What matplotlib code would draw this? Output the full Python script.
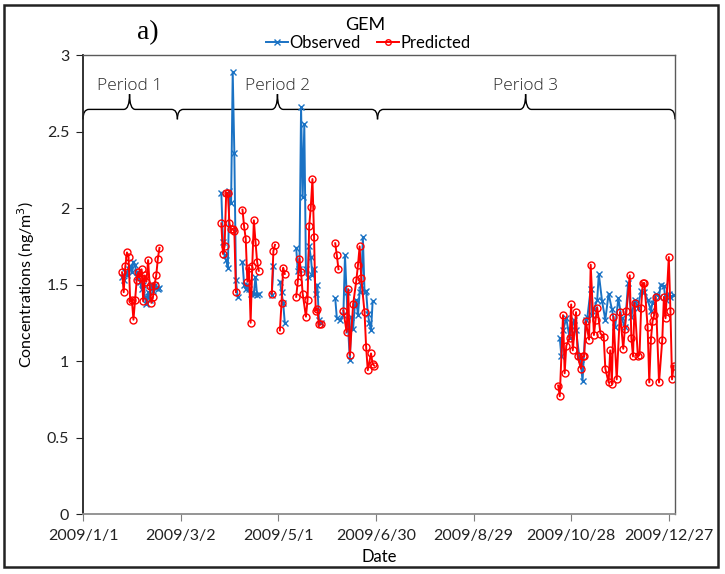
import numpy as np
import matplotlib.pyplot as plt
from matplotlib.path import Path
from matplotlib.patches import PathPatch, Rectangle
from matplotlib.lines import Line2D

# day of year (0 = 2009/1/1) and GEM concentrations (ng/m3)
obs_day = [24, 25, 26, 27, 28, 29, 30, 31, 32, 33, 34, 35, 36, 37, 38, 39, 40, 41, 42, 43, 44, 45, 46, 47,
           85, 86, 87, 88, 89, 90, 91, 92, 93, 94, 95,
           98, 99, 100, 101, 102, 103, 104, 105, 106, 107, 108,
           116, 117,
           121, 122, 123, 124,
           131, 132, 133, 134, 135, 136, 137, 138, 139, 140, 141, 142, 143, 144, 145, 146,
           155, 156, 158, 160, 161, 162, 163, 164, 165, 166, 167, 168, 169, 170, 171, 172, 173, 174, 175, 176,
           177, 178,
           293, 294, 295, 297, 299, 300, 302, 303, 305, 306, 307, 309, 310, 312, 313, 314, 316, 317, 319, 321,
           323, 325, 327, 329, 331, 333, 335, 337, 339, 341, 343, 345, 347, 349, 350, 352, 354, 355, 357, 358,
           360, 361, 363]
obs_val = [1.55, 1.53, 1.58, 1.56, 1.60, 1.62, 1.58, 1.65, 1.63, 1.55, 1.58, 1.52, 1.47, 1.50, 1.42, 1.37,
           1.45, 1.40, 1.50, 1.46, 1.50, 1.48, 1.47, 1.48,
           2.10, 1.78, 1.69, 1.66, 1.61, 2.11, 2.03, 2.89, 2.36, 1.53, 1.42,
           1.65, 1.50, 1.47, 1.50, 1.47, 1.44, 1.45, 1.44, 1.55, 1.43, 1.44,
           1.43, 1.62,
           1.52, 1.45, 1.38, 1.25,
           1.74, 1.59, 1.60, 2.66, 2.07, 2.55, 1.60, 1.55, 1.75, 1.68, 1.56, 1.60, 1.44, 1.50, 1.27, 1.25,
           1.41, 1.28, 1.27, 1.30, 1.69, 1.45, 1.20, 1.01, 1.29, 1.21, 1.36, 1.40, 1.30, 1.45, 1.50, 1.81,
           1.45, 1.46, 1.31, 1.25, 1.20, 1.39,
           1.15, 1.03, 1.20, 1.28, 1.15, 1.20, 1.27, 1.20, 1.03, 0.98, 0.87, 1.27, 1.29, 1.47, 1.30, 1.34,
           1.40, 1.57, 1.39, 1.27, 1.44, 1.34, 1.22, 1.41, 1.28, 1.22, 1.51, 1.29, 1.40, 1.35, 1.46, 1.45,
           1.40, 1.33, 1.38, 1.44, 1.42, 1.50, 1.49, 1.40, 1.44, 1.42, 1.43]

pred_day = [24, 25, 26, 27, 28, 29, 30, 31, 32, 33, 34, 35, 36, 37, 38, 39, 40, 41, 42, 43, 44, 45, 46, 47,
            85, 86, 87, 88, 89, 90, 91, 92, 93, 94,
            98, 99, 100, 101, 102, 103, 104, 105, 106, 107, 108,
            116, 117, 118,
            121, 122, 123, 124,
            131, 132, 133, 134, 135, 137, 138, 139, 140, 141, 142, 143, 144, 145, 146,
            155, 156, 157,
            160, 162, 163, 164, 166, 168, 169, 170, 171, 173, 174, 175, 177, 178, 179,
            292, 293, 295, 296, 297, 299, 300, 301, 303, 304, 306, 307, 308, 309, 311, 312, 314, 315, 316, 318,
            320, 321, 323, 324, 325, 326, 328, 330, 332, 333, 334, 336, 337, 338, 339, 341, 342, 343, 344, 345,
            347, 348, 349, 350, 351, 352, 354, 356, 357, 358, 360, 361, 362, 363]
pred_val = [1.58, 1.45, 1.62, 1.71, 1.68, 1.39, 1.40, 1.27, 1.40, 1.53, 1.58, 1.55, 1.60, 1.39, 1.56, 1.52,
            1.66, 1.49, 1.38, 1.42, 1.50, 1.56, 1.67, 1.74,
            1.90, 1.70, 1.75, 2.10, 2.10, 1.90, 1.86, 1.86, 1.85, 1.45,
            1.99, 1.88, 1.80, 1.52, 1.61, 1.25, 1.62, 1.92, 1.78, 1.65, 1.59,
            1.44, 1.72, 1.76,
            1.20, 1.38, 1.61, 1.57,
            1.42, 1.52, 1.67, 1.58, 1.44, 1.29, 1.40, 1.88, 2.01, 2.19, 1.81, 1.33, 1.34, 1.24, 1.24,
            1.77, 1.69, 1.60,
            1.33, 1.19, 1.47, 1.04, 1.37, 1.53, 1.63, 1.75, 1.54, 1.32, 1.09, 0.94, 1.05, 0.98, 0.97,
            0.84, 0.77, 1.30, 0.92, 1.10, 1.15, 1.37, 1.07, 1.32, 1.03, 0.95, 1.03, 1.03, 1.26, 1.14, 1.63,
            1.17, 1.27, 1.35, 1.18, 1.16, 0.95, 0.86, 1.07, 0.85, 1.29, 0.88, 1.32, 1.08, 1.21, 1.33, 1.56,
            1.15, 1.03, 1.38, 1.03, 1.04, 1.35, 1.51, 1.51, 1.22, 0.86, 1.14, 1.26, 1.30, 1.42, 0.86, 1.14,
            1.42, 1.28, 1.68, 1.33, 0.88, 0.97]

tick_days = [0, 60, 120, 180, 240, 300, 360]
tick_labels = ['2009/1/1', '2009/3/2', '2009/5/1', '2009/6/30', '2009/8/29', '2009/10/28', '2009/12/27']

period_names = ['Period 1', 'Period 2', 'Period 3']
period_start = [0, 58, 181]
period_end = [58, 181, 363.8]
period_tip = [28.6, 119.5, 272]


def with_gaps(days, vals):
    d = np.asarray(days, float)
    v = np.asarray(vals, float)
    brk = np.where(np.diff(d) > 2)[0] + 1
    return np.insert(d, brk, np.nan), np.insert(v, brk, np.nan)


def brace(ax, x0, x1, xm, y, w=3.6, h_end=0.065, h_tip=0.1):
    verts = [(x0, y - h_end), (x0, y), (x0 + w, y),
             (xm - w, y), (xm, y), (xm, y + h_tip),
             (xm, y), (xm + w, y),
             (x1 - w, y), (x1, y), (x1, y - h_end)]
    codes = [Path.MOVETO, Path.CURVE3, Path.CURVE3,
             Path.LINETO, Path.CURVE3, Path.CURVE3,
             Path.CURVE3, Path.CURVE3,
             Path.LINETO, Path.CURVE3, Path.CURVE3]
    ax.add_patch(PathPatch(Path(verts, codes), fill=False, lw=1.0, color='black', clip_on=False))


plt.rcParams['font.family'] = ['Lato', 'DejaVu Sans']

fig = plt.figure(figsize=(7.25, 5.74), dpi=100)
ax = fig.add_axes([0.1145, 0.1045, 0.8165, 0.7995])

blue = '#1a72c4'
red = '#ff0000'
od, ov = with_gaps(obs_day, obs_val)
pdd, pv = with_gaps(pred_day, pred_val)
ax.plot(od, ov, '-', color=blue, lw=1.4, marker='x', ms=4, mew=1.0)
ax.plot(pdd, pv, '-', color=red, lw=1.4, marker='o', ms=5, mfc='none', mew=1.0)

ax.set_xlim(0, 363.8)
ax.set_ylim(0, 3)
ax.set_yticks([0, 0.5, 1, 1.5, 2, 2.5, 3])
ax.set_yticklabels(['0', '0.5', '1', '1.5', '2', '2.5', '3'])
ax.set_xticks(tick_days)
ax.set_xticklabels(tick_labels)
ax.tick_params(axis='both', direction='out', length=5, labelsize=11.5, colors='#222222')
ax.tick_params(axis='x', color='#7f7f7f', pad=6)
ax.tick_params(axis='y', color='#222222', pad=5)
ax.spines['left'].set_color('#222222')
ax.spines['left'].set_linewidth(1.3)
ax.spines['bottom'].set_color('#8c8c8c')
ax.spines['bottom'].set_linewidth(1.3)
for s in ['top', 'right']:
    ax.spines[s].set_color('#5a5a5a')
    ax.spines[s].set_linewidth(1.0)

ax.set_xlabel('Date', fontsize=12, labelpad=4)
ax.set_ylabel('Concentrations (ng/m$^3$)', fontsize=11.5)
ax.yaxis.set_label_coords(-0.078, 0.5)

for name, x0, x1, xm in zip(period_names, period_start, period_end, period_tip):
    brace(ax, x0, x1, xm, 2.645)
    ax.text(xm, 2.80, name, ha='center', va='center', fontsize=12.5, color='#2a2a2a',
            fontfamily=['Open Sans', 'DejaVu Sans'], fontweight='light')

fig.text(0.504, 0.957, 'GEM', ha='center', va='center', fontsize=13)
fig.text(0.204, 0.944, 'a)', ha='center', va='center', fontsize=20, fontfamily='Liberation Serif')

handles = [Line2D([], [], color=blue, lw=1.4, marker='x', ms=4, mew=1.0),
           Line2D([], [], color=red, lw=1.4, marker='o', ms=4, mfc='none', mew=1.0)]
fig.legend(handles, ['Observed', 'Predicted'], loc='center', bbox_to_anchor=(0.508, 0.925), ncol=2,
           frameon=False, fontsize=12, handlelength=1.3, handletextpad=0.1, columnspacing=1.0,
           borderpad=0)

fig.patches.append(Rectangle((0.006, 0.012), 0.984, 0.98, transform=fig.transFigure, fill=False,
                             lw=1.8, ec='#222222'))

fig.savefig('out.png', dpi=100)
